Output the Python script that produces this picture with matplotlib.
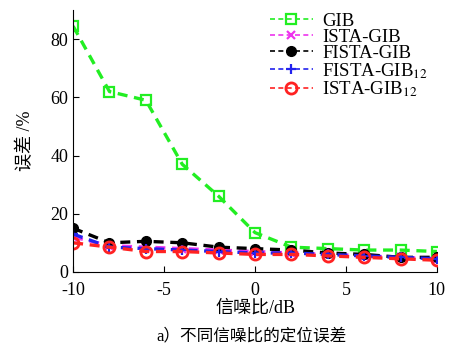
"""Localization error vs SNR for GIB variants."""
import matplotlib
matplotlib.use("Agg")
import matplotlib.pyplot as plt

plt.rcParams["font.family"] = ["Liberation Serif", "Noto Sans CJK SC", "DejaVu Sans"]
plt.rcParams["mathtext.fontset"] = "stix"
plt.rcParams["axes.unicode_minus"] = False

snr = [-10, -8, -6, -4, -2, 0, 2, 4, 6, 8, 10]
gib = [84.5, 62, 59, 37, 26, 13.5, 8.5, 8, 7.5, 7.5, 7]
ista_gib = [12, 9, 8.5, 8, 7.5, 7, 6.5, 6, 5.5, 5, 4.5]
fista_gib = [15, 10, 10.5, 10, 8.5, 8, 7.5, 6.5, 6, 5, 5]
fista_gib12 = [13, 8.5, 8, 7.5, 7, 6.5, 6.5, 6, 5.5, 5, 4.5]
ista_gib12 = [10, 8.5, 7, 7, 6.5, 6, 6, 5.5, 5, 4.5, 4]

fig = plt.figure(figsize=(4.57, 3.49), dpi=100)
ax = fig.add_axes([0.16, 0.221, 0.796, 0.75])

dash = (0, (3, 2))
ax.plot(snr, gib, color="#22ee22", linestyle=dash, lw=2.4, marker="s", ms=7,
        mfc="none", mec="#22ee22", mew=1.6, label="GIB")
ax.plot(snr, ista_gib, color="#ee33ee", linestyle=dash, lw=2.4, marker="x", ms=6,
        mew=1.6, label="ISTA-GIB")
ax.plot(snr, fista_gib, color="black", linestyle=dash, lw=2.4, marker="o", ms=7,
        label="FISTA-GIB")
ax.plot(snr, fista_gib12, color="#2222ee", linestyle=dash, lw=2.4, marker="+", ms=7,
        mew=1.6, label="FISTA-GIB$_{12}$")
ax.plot(snr, ista_gib12, color="#ff2222", linestyle=dash, lw=2.4, marker="o", ms=8,
        mfc="none", mec="#ff2222", mew=2, label="ISTA-GIB$_{12}$")

ax.set_xlim(-10, 10)
ax.set_ylim(0, 90)
ax.set_xticks([-10, -5, 0, 5, 10])
ax.set_yticks([0, 20, 40, 60, 80])
ax.tick_params(direction="in", labelsize=13, length=4)
ax.tick_params(axis="x", pad=7)
ax.spines["top"].set_visible(False)
ax.spines["right"].set_visible(False)

ax.set_xlabel("信噪比/dB", fontsize=13, labelpad=1)
ax.set_ylabel("误差 /%", fontsize=13, labelpad=12)

leg = ax.legend(loc="upper left", bbox_to_anchor=(0.52, 1.02), frameon=False,
                fontsize=13.5, handlelength=2.3, labelspacing=-0.05,
                borderaxespad=0, handletextpad=0.5)
for h in leg.legend_handles:
    h.set_linewidth(1.2)

fig.text(0.55, 0.025, "a）不同信噪比的定位误差", ha="center", fontsize=12)

fig.savefig("out.png", dpi=100)
